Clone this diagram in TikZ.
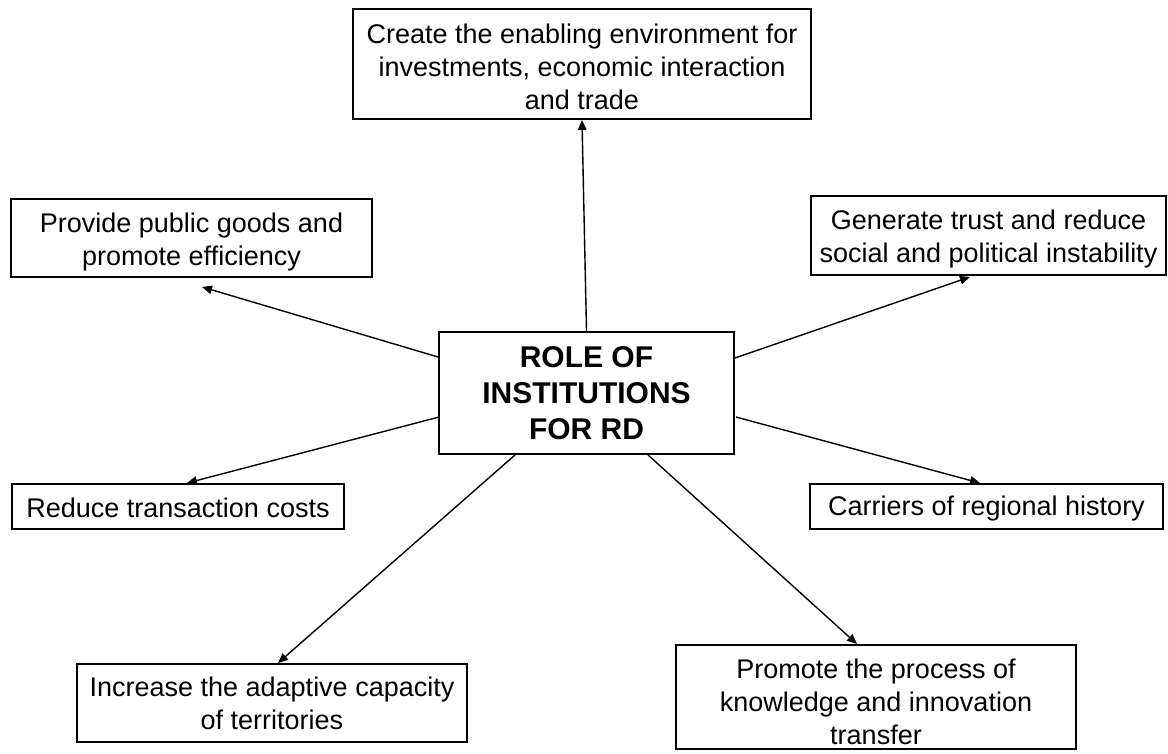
\documentclass[tikz,border=0pt]{standalone}
\usepackage{fontspec}
\setmainfont{Liberation Sans}
\usetikzlibrary{calc,arrows.meta}
\begin{document}
\begin{tikzpicture}[x=1pt,y=-1pt,
  box/.style={draw=black,line width=1.9pt,align=center,inner sep=0pt,
    font=\fontsize{27}{33}\selectfont},
  centerbox/.style={box,font=\fontsize{30}{36}\selectfont\bfseries},
  link/.style={line width=1.4pt,-{Triangle[length=10pt,width=8.5pt]}}]
\fill[white] (0,0) rectangle (1168,753);
\useasboundingbox (0,0) rectangle (1168,753);
\node[box,minimum width=458pt,minimum height=110pt] (top) at (582,64)
  {\rule{0pt}{26pt}Create the enabling environment for\\investments, economic interaction\\and trade};
\node[box,minimum width=361pt,minimum height=78pt] (provide) at (191.5,238)
  {\rule{0pt}{28pt}Provide public goods and\\promote efficiency};
\node[box,minimum width=355pt,minimum height=79pt] (generate) at (988.5,235.5)
  {\rule{0pt}{26pt}Generate trust and reduce\\social and political instability};
\node[centerbox,minimum width=295pt,minimum height=122pt] (central) at (586.5,393)
  {ROLE OF\\INSTITUTIONS\\FOR RD};
\node[box,minimum width=332pt,minimum height=45pt] (reduce) at (178,506.5)
  {\rule{0pt}{23pt}Reduce transaction costs};
\node[box,minimum width=353pt,minimum height=45pt] (carriers) at (986.5,506.5)
  {\rule{0pt}{23pt}Carriers of regional history};
\node[box,minimum width=390pt,minimum height=78pt] (increase) at (272,703)
  {Increase the adaptive capacity\\of territories};
\node[box,minimum width=400pt,minimum height=104pt] (promote) at (876,697)
  {\rule{0pt}{30pt}Promote the process of\\knowledge and innovation\\transfer};
\draw[link] (central.north) -- (top.south);
\draw[link] ($(central.west)+(0,-36)$) -- ($(provide.south)+(10.5,9)$);
\draw[link] ($(central.east)+(0,-35)$) -- ($(generate.south)+(-18.5,1)$);
\draw[link] ($(central.west)+(1,24)$) -- ($(reduce.north)+(9,0)$);
\draw[link] ($(central.east)+(1,24)$) -- ($(carriers.north)+(-6.5,0)$);
\draw[link] ($(central.south)+(-71.5,0)$) -- ($(increase.north)+(6,0)$);
\draw[link] ($(central.south)+(61.5,0)$) -- ($(promote.north)+(-19,0)$);
\end{tikzpicture}
\end{document}
